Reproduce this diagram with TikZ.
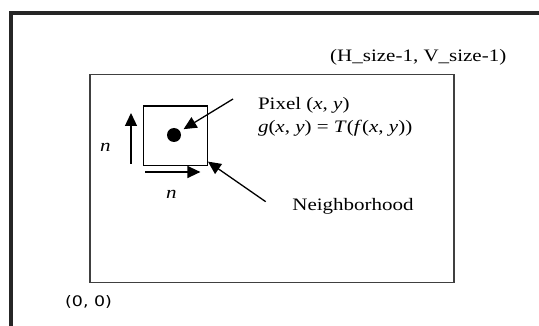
\documentclass[tikz,border=0pt]{standalone}
\usepackage{fontspec}
\setmainfont{Liberation Serif}[FakeStretch=1.2]
\newfontfamily\dejavu{DejaVu Sans}[FakeStretch=1.2]
\usetikzlibrary{arrows.meta}
\begin{document}
\begin{tikzpicture}[x=1pt,y=-1pt,
  lbl/.style={inner sep=0pt, anchor=base west, font=\fontsize{17.5}{21}\selectfont},
  arr/.style={line width=1.3pt, -{Triangle[length=13pt,width=12pt]}},
  imgbox/.style={draw=black!75, line width=1.5pt, inner sep=0pt, anchor=north west},
  sqbox/.style={draw=black, line width=1.3pt, inner sep=0pt, anchor=north west},
  dotnode/.style={circle, fill=black, inner sep=0pt, minimum size=14pt}
]
\useasboundingbox (0,0) rectangle (539,326);
\clip (0,0) rectangle (539,326);
\draw[line width=4pt, black!85] (10.7,13) rectangle (580,360);

\node[imgbox, minimum width=363.6pt, minimum height=208pt] (img) at (89.4,74) {};
\node[sqbox, minimum width=63.9pt, minimum height=59.4pt] (sq) at (142.7,105.3) {};
\node[dotnode] (dot) at (174,135) {};

\coordinate (ua1) at (131,164);
\coordinate (ua2) at (131,113);
\draw[arr] (ua1) -- (ua2);
\coordinate (ra1) at (145,172);
\coordinate (ra2) at (200.4,172);
\draw[arr] (ra1) -- (ra2);

\coordinate (pa) at (233,99);
\draw[arr, shorten >=4pt] (pa) -- (dot);
\coordinate (na) at (265.7,201.7);
\draw[arr] (na) -- ([yshift=4.4pt]sq.south east);

\node[lbl] (nl) at (100,151.7) {\textit{n}};
\node[lbl] (nb) at (166,198.3) {\textit{n}};

\node[lbl] (top) at (330,61.7) {(H\_size-1, V\_size-1)};
\node[lbl] (pix) at (257.8,109.3) {Pixel (\textit{x}, \textit{y})};
\node[lbl] (eq) at (257.8,132.7) {\textit{g}(\textit{x}, \textit{y}) = \textit{T}(\textit{f}(\textit{x}, \textit{y}))};
\node[lbl] (nbh) at (292.2,210.7) {Neighborhood};
\node[lbl, font=\dejavu\fontsize{14.5}{17}\selectfont] (org) at (65,306.7) {(0, 0)};
\end{tikzpicture}
\end{document}
